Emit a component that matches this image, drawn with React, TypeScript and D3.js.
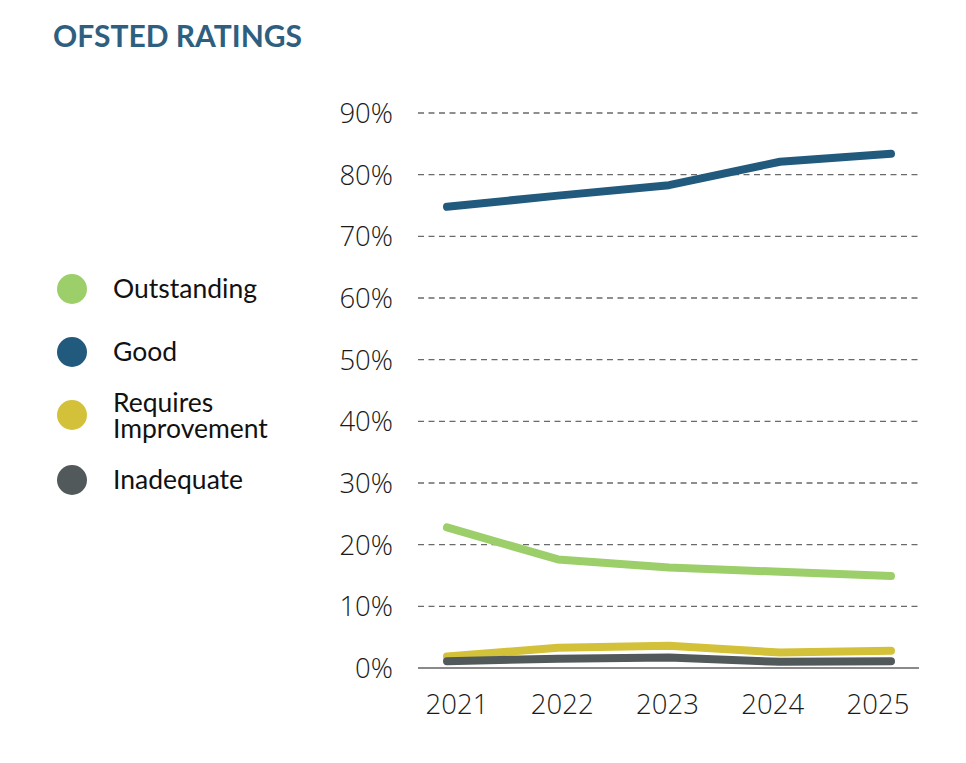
import React from "react";
import * as d3 from "d3";

const years = ["2021", "2022", "2023", "2024", "2025"];
const outstanding = [22.8, 17.6, 16.3, 15.6, 14.9];
const good = [74.8, 76.6, 78.3, 82.1, 83.4];
const requiresImprovement = [1.85, 3.3, 3.6, 2.5, 2.8];
const inadequate = [1.1, 1.5, 1.7, 1.0, 1.1];
const yTicks = [0, 10, 20, 30, 40, 50, 60, 70, 80, 90];

const seriesNames = ["Outstanding", "Good", "Requires Improvement", "Inadequate"];
const seriesColors = ["#9ccf6a", "#225a7e", "#d3c13a", "#52595b"];

export default function App() {
  const W = 966;
  const H = 763;
  const x = d3.scalePoint<string>().domain(years).range([447, 891]);
  const xLabel = d3.scalePoint<string>().domain(years).range([457, 878]);
  const y = d3.scaleLinear().domain([0, 90]).range([668, 113]);
  const line = d3
    .line<number>()
    .x((_, i) => x(years[i]) as number)
    .y((d) => y(d));

  const data = [outstanding, good, requiresImprovement, inadequate];
  const legendY = [289, 352, 415, 480];
  const axisFont = "'Open Sans', 'Noto Sans', sans-serif";

  return (
    <svg width={W} height={H} style={{ position: "absolute", left: 0, top: 0, background: "#fff" }}>
      <text x={53} y={47} fontFamily="Lato, sans-serif" fontWeight={700} fontSize={30} fill="#2f5f80">
        OFSTED RATINGS
      </text>

      {yTicks.map((t) => (
        <g key={t}>
          {t > 0 && (
            <line
              x1={418}
              x2={919}
              y1={y(t)}
              y2={y(t)}
              stroke="#6a6a6a"
              strokeWidth={1.4}
              strokeDasharray="6 4.5"
            />
          )}
          <text
            x={393}
            y={y(t)}
            dy="0.36em"
            textAnchor="end"
            fontFamily={axisFont}
            fontWeight={300}
            fontSize={27.5}
            fill="#1a1a1a"
          >
            {t}%
          </text>
        </g>
      ))}
      <line x1={418} x2={919} y1={y(0)} y2={y(0)} stroke="#8a8a8a" strokeWidth={2} />

      {years.map((yr) => (
        <text
          key={yr}
          x={xLabel(yr)}
          y={714}
          textAnchor="middle"
          fontFamily={axisFont}
          fontWeight={300}
          fontSize={27.5}
          fill="#1a1a1a"
        >
          {yr}
        </text>
      ))}

      {data.map((d, i) => (
        <path
          key={seriesNames[i]}
          d={line(d) || ""}
          fill="none"
          stroke={seriesColors[i]}
          strokeWidth={8}
          strokeLinecap="round"
          strokeLinejoin="round"
        />
      ))}

      {seriesNames.map((name, i) => (
        <g key={name}>
          <circle cx={72} cy={legendY[i]} r={15} fill={seriesColors[i]} />
          {name === "Requires Improvement" ? (
            <>
              <text x={113} y={legendY[i] - 3} fontFamily="Lato, sans-serif" fontSize={26.5} fill="#111">
                Requires
              </text>
              <text x={113} y={legendY[i] + 23} fontFamily="Lato, sans-serif" fontSize={26.5} fill="#111">
                Improvement
              </text>
            </>
          ) : (
            <text x={113} y={legendY[i]} dy="0.35em" fontFamily="Lato, sans-serif" fontSize={26.5} fill="#111">
              {name}
            </text>
          )}
        </g>
      ))}
    </svg>
  );
}
